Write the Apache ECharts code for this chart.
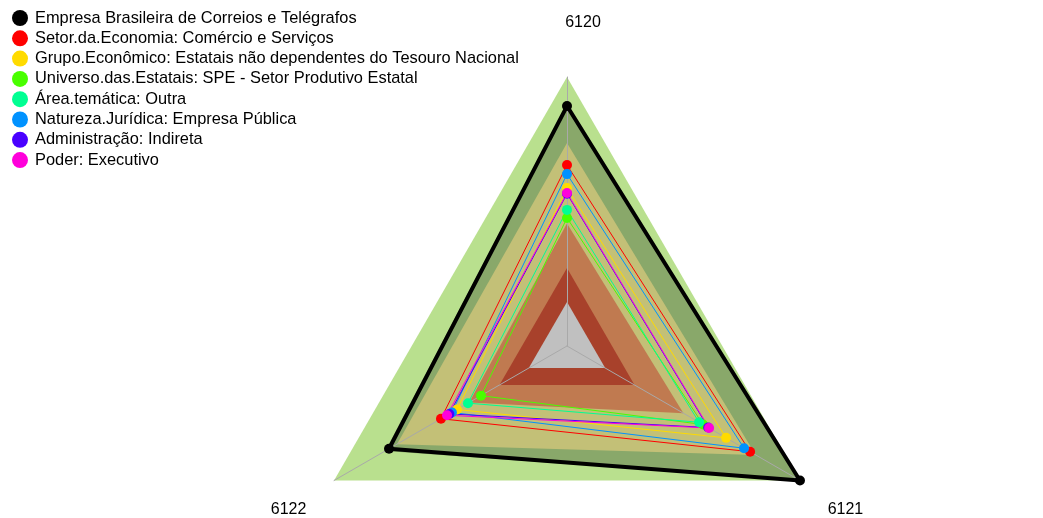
<!DOCTYPE html>
<html>
<head>
<meta charset="utf-8">
<script src="https://cdn.jsdelivr.net/npm/echarts@6/dist/echarts.min.js"></script>
<style>html,body{margin:0;padding:0;background:#fff;}#chart{width:1043px;height:518px;}</style>
</head>
<body>
<div id="chart"></div>
<script>
// Axes (indicator order as placed: top, bottom-left, bottom-right)
const indicators = ['6120', '6122', '6121'];

// Series names (legend order) and colours
const seriesNames = [
  'Empresa Brasileira de Correios e Telégrafos',
  'Setor.da.Economia: Comércio e Serviços',
  'Grupo.Econômico: Estatais não dependentes do Tesouro Nacional',
  'Universo.das.Estatais: SPE - Setor Produtivo Estatal',
  'Área.temática: Outra',
  'Natureza.Jurídica: Empresa Pública',
  'Administração: Indireta',
  'Poder: Executivo'
];
const seriesColors = ['#000000', '#FF0000', '#FFDB00', '#49FF00', '#00FF92', '#0092FF', '#4900FF', '#FF00DB'];

// Values per series, in indicator order [6120, 6122, 6121]
const correios      = [0.892, 0.764, 1.000];
const setor         = [0.673, 0.541, 0.786];
const grupo         = [0.587, 0.472, 0.683];
const universo      = [0.476, 0.369, 0.584];
const areaTematica  = [0.506, 0.425, 0.567];
const natureza      = [0.639, 0.494, 0.760];
const administracao = [0.566, 0.505, 0.606];
const poder         = [0.569, 0.515, 0.610];
const seriesValues = [correios, setor, grupo, universo, areaTematica, natureza, administracao, poder];

// Reference bands (outer to inner), in indicator order
const bandMax    = [1.000, 1.000, 1.000];
const band90     = [0.900, 0.780, 1.000];
const band75     = [0.755, 0.730, 0.810];
const band50     = [0.455, 0.420, 0.500];
const band25     = [0.290, 0.290, 0.290];
const bandMin    = [0.164, 0.164, 0.164];
const bandValues = [bandMax, band90, band75, band50, band25, bandMin];
const bandColors = ['#b9e08e', '#89a86a', '#c3c077', '#c07a50', '#a8412b', '#c0c0c0'];

const FONT = 'Liberation Sans, Arial, sans-serif';
const chart = echarts.init(document.getElementById('chart'));

const series = [];
bandValues.forEach((v, i) => {
  series.push({
    type: 'radar', silent: true, z: 1,
    symbol: 'none',
    lineStyle: { width: 0, opacity: 0 },
    areaStyle: { color: bandColors[i], opacity: 1 },
    data: [{ value: v, name: 'band' + i }]
  });
});
seriesValues.forEach((v, i) => {
  const isMain = i === 0;
  series.push({
    type: 'radar', z: 3,
    name: seriesNames[i],
    symbol: 'circle',
    symbolSize: 10,
    itemStyle: { color: seriesColors[i] },
    lineStyle: { color: seriesColors[i], width: isMain ? 4 : 1 },
    emphasis: { disabled: true },
    data: [{ value: v, name: seriesNames[i] }]
  });
});

chart.setOption({
  animation: false,
  backgroundColor: '#ffffff',
  legend: {
    data: seriesNames.map((n, i) => ({ name: n, itemStyle: { color: seriesColors[i] } })),
    orient: 'vertical', left: 7, top: 5,
    icon: 'circle', itemWidth: 20, itemHeight: 16, itemGap: 4.3,
    textStyle: { fontSize: 16.4, color: '#000', fontFamily: FONT },
    selectedMode: false
  },
  radar: {
    center: [567, 346], radius: 269, z: 2,
    shape: 'polygon', startAngle: 90, splitNumber: 1,
    indicator: indicators.map(n => ({ name: n, min: 0, max: 1 })),
    axisName: {
      color: '#000', fontSize: 16, fontFamily: FONT,
      formatter: n => n === '6120' ? '{t|' + n + '}' : '{b|' + n + '}',
      rich: {
        t: { fontSize: 16, color: '#000', fontFamily: FONT, padding: [0, 0, 14, 32] },
        b: { fontSize: 16, color: '#000', fontFamily: FONT, padding: [26, 0, 0, 0] }
      }
    },
    nameGap: 32,
    axisLine: { show: true, lineStyle: { color: '#a9a9a9', width: 1 } },
    splitLine: { show: false },
    splitArea: { show: false },
    axisTick: { show: false },
    axisLabel: { show: false }
  },
  series: series
});
</script>
</body>
</html>
